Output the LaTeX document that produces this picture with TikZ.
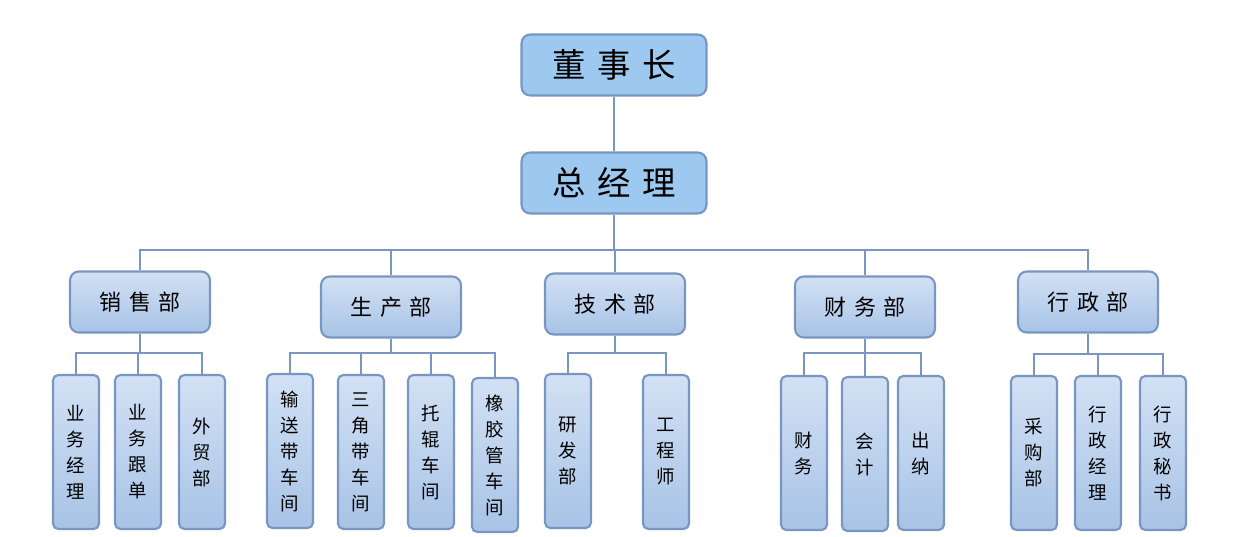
\documentclass[tikz,border=0pt]{standalone}
\usepackage{fontspec}
\newfontfamily\cjk{Noto Sans CJK SC}
\definecolor{topfill}{RGB}{157,200,240}
\definecolor{boxline}{RGB}{120,150,192}
\definecolor{boxtop}{RGB}{210,225,244}
\definecolor{boxbot}{RGB}{168,195,230}
\newcommand{\gp}{\hspace{0.35em}}
\tikzset{
  head/.style={draw=boxline, line width=1.2pt, fill=topfill, rounded corners=5pt,
    minimum width=3.7cm, minimum height=1.22cm, font=\cjk\fontsize{19}{22}\selectfont},
  dept/.style={draw=boxline, line width=1.2pt, top color=boxtop, bottom color=boxbot,
    rounded corners=5pt, minimum width=2.8cm, minimum height=1.22cm,
    font=\cjk\fontsize{12.5}{15}\selectfont},
  unit/.style={draw=boxline, line width=1.2pt, top color=boxtop, bottom color=boxbot,
    rounded corners=3pt, minimum width=0.92cm, minimum height=3.08cm, inner sep=1pt,
    align=center, font=\cjk\fontsize{10.5}{14.8}\selectfont},
  link/.style={draw=boxline, line width=1.2pt},
}
\begin{document}
\begin{tikzpicture}[x=0.02cm,y=-0.02cm]
  \useasboundingbox (0,0) rectangle (1252,537);
  % top
  \node[head] (dsz) at (614,65) {董\gp 事\gp 长};
  \node[head] (zjl) at (614,183) {总\gp 经\gp 理};
  % departments
  \node[dept] (xs) at (140,302) {销\gp 售\gp 部};
  \node[dept] (sc) at (391,307) {生\gp 产\gp 部};
  \node[dept] (js) at (615,304) {技\gp 术\gp 部};
  \node[dept] (cw) at (865,307) {财\gp 务\gp 部};
  \node[dept] (xz) at (1088,302) {行\gp 政\gp 部};
  % units
  \node[unit] (xs1) at (76,452) {业\\务\\经\\理};
  \node[unit] (xs2) at (138,452) {业\\务\\跟\\单};
  \node[unit] (xs3) at (202,452) {外\\贸\\部};
  \node[unit] (sc1) at (290,451) {输\\送\\带\\车\\间};
  \node[unit] (sc2) at (361,452) {三\\角\\带\\车\\间};
  \node[unit] (sc3) at (431,452) {托\\辊\\车\\间};
  \node[unit] (sc4) at (495,455) {橡\\胶\\管\\车\\间};
  \node[unit] (js1) at (568,451) {研\\发\\部};
  \node[unit] (js2) at (666,452) {工\\程\\师};
  \node[unit] (cw1) at (804,453) {财\\务};
  \node[unit] (cw2) at (865,454) {会\\计};
  \node[unit] (cw3) at (921,453) {出\\纳};
  \node[unit] (xz1) at (1034,453) {采\\购\\部};
  \node[unit] (xz2) at (1098,453) {行\\政\\经\\理};
  \node[unit] (xz3) at (1163,453) {行\\政\\秘\\书};
  % connectors
  \coordinate (bus) at (614,250);
  \draw[link] (dsz) -- (zjl);
  \draw[link] (zjl) -- (bus);
  \foreach \d in {xs,sc,js,cw,xz}
    \draw[link] (bus) -| (\d);
  \coordinate (xsb) at (140,353);
  \coordinate (scb) at (391,353);
  \coordinate (jsb) at (615,353);
  \coordinate (cwb) at (865,353);
  \coordinate (xzb) at (1088,354);
  \foreach \d/\u in {xs/{xs1,xs2,xs3},sc/{sc1,sc2,sc3,sc4},js/{js1,js2},cw/{cw1,cw2,cw3},xz/{xz1,xz2,xz3}} {
    \draw[link] (\d) -- (\d b);
    \foreach \c in \u
      \draw[link] (\d b) -| (\c);
  }
\end{tikzpicture}
\end{document}
